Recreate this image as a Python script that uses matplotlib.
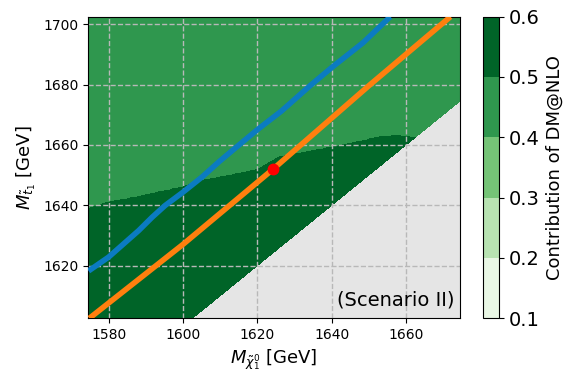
import numpy as np
import matplotlib
matplotlib.use("Agg")
import matplotlib.pyplot as plt

# ---- data ----
x_range = [1574.5, 1674.5]
y_range = [1602.5, 1702.5]
levels = [0.1, 0.2, 0.3, 0.4, 0.5, 0.6]
region_values = [0.55, 0.45]  # below / above the wavy boundary

# boundary between 0.5-0.6 and 0.4-0.5 regions
bnd_x = [1574.5, 1580.0, 1587.2, 1593.4, 1600.0, 1605.1, 1612.2, 1620.0, 1626.1,
         1640.0, 1648.5, 1653.0, 1657.4, 1661.0, 1664.0, 1674.5]
bnd_y = [1638.8, 1641.0, 1642.6, 1644.3, 1646.0, 1648.2, 1649.8, 1651.8, 1656.0,
         1659.2, 1661.4, 1662.7, 1663.0, 1662.7, 1662.5, 1662.5]

# blue curve
blue_x = [1574.6, 1580.0, 1588.1, 1591.7, 1595.2, 1600.0, 1605.1, 1609.8, 1615.4,
          1620.3, 1626.5, 1634.2, 1640.0, 1648.5, 1655.8]
blue_y = [1618.2, 1622.8, 1631.6, 1636.0, 1639.9, 1644.3, 1649.3, 1654.5, 1660.3,
          1665.3, 1671.2, 1679.6, 1685.6, 1693.9, 1702.5]

# orange curve
orange_x = [1574.8, 1600.0, 1624.3, 1650.3, 1672.0]
orange_y = [1602.5, 1627.0, 1652.0, 1679.9, 1702.5]

# benchmark point
point_x = [1624.3]
point_y = [1652.0]

x_ticks = [1580, 1600, 1620, 1640, 1660]
y_ticks = [1620, 1640, 1660, 1680, 1700]

# ---- build field ----
xs = np.linspace(x_range[0], x_range[1], 501)
ys = np.linspace(y_range[0], y_range[1], 501)
X, Y = np.meshgrid(xs, ys)
B = np.interp(X, bnd_x, bnd_y)
Z = np.where(Y < B, region_values[0], region_values[1])
Z = np.ma.masked_where(Y < X, Z)

fig = plt.figure(figsize=(5.88, 3.87), dpi=100)
ax = fig.add_axes([0.150, 0.1775, 0.632, 0.7795])
cax = fig.add_axes([0.822, 0.1775, 0.0267, 0.7795])

ax.set_facecolor('#e5e5e5')
cf = ax.contourf(X, Y, Z, levels=levels, cmap='Greens')

ax.plot(blue_x, blue_y, color='#0b7bc1', lw=4, solid_capstyle='butt', zorder=3)
ax.plot(orange_x, orange_y, color='#ff7f0e', lw=4, solid_capstyle='butt', zorder=3)
ax.plot(point_x, point_y, 'o', color='#ff0000', ms=7.5, zorder=4)

ax.set_xlim(x_range)
ax.set_ylim(y_range)
ax.set_xticks(x_ticks)
ax.set_yticks(y_ticks)
ax.tick_params(labelsize=10)
ax.grid(True, linestyle='--', color='#b8b8b8', lw=1)

ax.set_xlabel(r'$M_{\tilde{\chi}_1^0}$ [GeV]', fontsize=13)
ax.set_ylabel(r'$M_{\tilde{t}_1}$ [GeV]', fontsize=13)
ax.text(0.985, 0.03, '(Scenario II)', transform=ax.transAxes, ha='right',
        va='bottom', fontsize=14, zorder=5)

cb = fig.colorbar(cf, cax=cax, ticks=levels)
cb.ax.tick_params(labelsize=14)
cb.set_label('Contribution of DM@NLO', fontsize=13)

fig.savefig('out.png', dpi=100)
